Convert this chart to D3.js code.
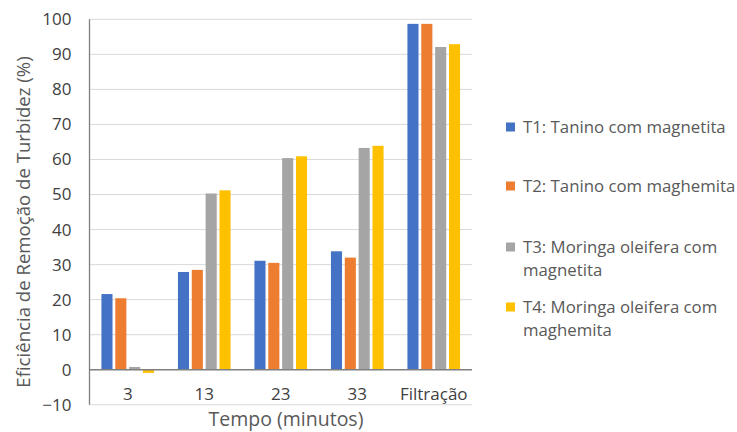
<!DOCTYPE html>
<html><head><meta charset="utf-8">
<script src="https://cdn.jsdelivr.net/npm/d3@7"></script>
<style>body{margin:0;background:#fff}svg{display:block}</style>
</head><body>
<script>
const categories = ["3", "13", "23", "33", "Filtração"];
const seriesNames = ["T1: Tanino com magnetita", "T2: Tanino com maghemita", "T3: Moringa oleifera com magnetita", "T4: Moringa oleifera com maghemita"];
const legendLines = [["T1: Tanino com magnetita"], ["T2: Tanino com maghemita"], ["T3: Moringa oleifera com", "magnetita"], ["T4: Moringa oleifera com", "maghemita"]];
const t1 = [21.6, 27.9, 31.1, 33.8, 98.7];
const t2 = [20.4, 28.5, 30.5, 32.0, 98.7];
const t3 = [0.8, 50.3, 60.4, 63.3, 92.1];
const t4 = [-0.9, 51.2, 60.9, 63.9, 92.9];
const colors = ["#4472C4", "#ED7D31", "#A5A5A5", "#FFC000"];
const yTicks = [-10, 0, 10, 20, 30, 40, 50, 60, 70, 80, 90, 100];
const xTitle = "Tempo (minutos)";
const yTitle = "Eficiência de Remoção de Turbidez (%)";

const W = 737, H = 432;
const font = "'Open Sans', sans-serif";
const svg = d3.select("body").append("svg").attr("width", W).attr("height", H);
const pL = 89.5, pR = 472, pT = 19.3, pB = 404.8;
const y = d3.scaleLinear().domain([-10, 100]).range([pB, pT]);
const x0 = d3.scaleBand().domain(categories).range([pL, pR]).padding(0);
const bw = x0.bandwidth();
const x1 = d3.scaleBand().domain(d3.range(4)).range([bw * 0.156, bw * 0.844]).paddingInner(0.2).paddingOuter(0);
const allSeries = [t1, t2, t3, t4];

// gridlines
svg.append("g").selectAll("line").data(yTicks.filter(d => d !== 0)).join("line")
  .attr("x1", pL).attr("x2", pR).attr("y1", d => y(d)).attr("y2", d => y(d))
  .attr("stroke", "#d9d9d9").attr("stroke-width", 1);

// bars
const g = svg.append("g");
allSeries.forEach((vals, si) => {
  g.append("g").selectAll("rect").data(vals.map((v, i) => ({v, c: categories[i]}))).join("rect")
    .attr("x", d => x0(d.c) + x1(si))
    .attr("width", x1.bandwidth())
    .attr("y", d => Math.min(y(d.v), y(0)))
    .attr("height", d => Math.abs(y(d.v) - y(0)))
    .attr("fill", colors[si]);
});

// zero axis line
svg.append("line").attr("x1", pL).attr("x2", pR).attr("y1", y(0)).attr("y2", y(0))
  .attr("stroke", "#7f7f7f").attr("stroke-width", 1.3);
// left axis line
svg.append("line").attr("x1", pL).attr("x2", pL).attr("y1", pT).attr("y2", pB)
  .attr("stroke", "#7f7f7f").attr("stroke-width", 1.3);

// y axis tick labels
const yAxis = d3.axisLeft(y).tickValues(yTicks).tickSize(0).tickPadding(18);
const ya = svg.append("g").attr("transform", `translate(${pL},0)`).call(yAxis);
ya.select(".domain").remove();
ya.selectAll("text").attr("font-family", font).attr("font-size", 17).attr("fill", "#404040");

// x category labels
const xAxis = d3.axisBottom(x0).tickSize(0).tickPadding(0);
const xa = svg.append("g").attr("transform", `translate(0,${y(0)})`).call(xAxis);
xa.select(".domain").remove();
xa.selectAll("text").attr("font-family", font).attr("font-size", 17).attr("fill", "#404040")
  .attr("dy", null).attr("y", 30);

// titles
svg.append("text").attr("x", 286).attr("y", 425.5).attr("text-anchor", "middle")
  .attr("font-family", font).attr("font-size", 19.5).attr("fill", "#595959").text(xTitle);
svg.append("text").attr("transform", `translate(30,222) rotate(-90)`).attr("text-anchor", "middle")
  .attr("font-family", font).attr("font-size", 18.6).attr("fill", "#595959").text(yTitle);

// legend
const legY = [127, 186, 247, 307];
const leg = svg.append("g");
legendLines.forEach((lines, i) => {
  leg.append("rect").attr("x", 506).attr("y", legY[i] - 4.5).attr("width", 9).attr("height", 9).attr("fill", colors[i]);
  lines.forEach((ln, j) => {
    leg.append("text").attr("x", 523).attr("y", legY[i] + j * 23.5).attr("dy", "0.35em")
      .attr("font-family", font).attr("font-size", 16.8).attr("fill", "#595959").text(ln);
  });
});
</script>
</body></html>
